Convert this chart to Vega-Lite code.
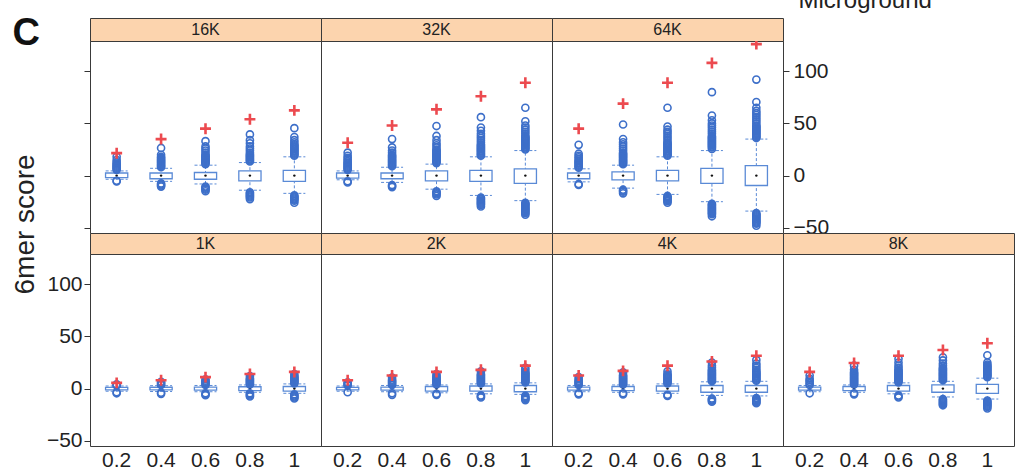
{
  "$schema": "https://vega.github.io/schema/vega-lite/v6.json",
  "padding": {"left": 10, "top": -13, "right": 0, "bottom": 10},
  "background": "white",
  "columns": 4,
  "bounds": "flush",
  "align": "each",
  "spacing": 0,
  "datasets": {
    "boxes": [
      {"panel": "16K", "frac": "0.2", "q1": -2, "q3": 2.5, "med": 0, "lo": -3.5, "hi": 4.5, "mg": 21.5, "out": [5.5,6.5,7.5,8.5,9.5,10.5,11.5,13,15,18,-5,-5.5]},
      {"panel": "16K", "frac": "0.4", "q1": -3, "q3": 2.5, "med": 0, "lo": -5.5, "hi": 7, "mg": 35, "out": [8,9,10,11,12,13,14,15,16,17,18,20,26.5,-7.5,-8.5,-9.5,-10.5]},
      {"panel": "16K", "frac": "0.6", "q1": -3.5, "q3": 3, "med": 0, "lo": -8, "hi": 10, "mg": 45, "out": [11,12,13,14,15,16,17,18,19,20,22,24,26,28,33,-10.5,-11.5,-12.5,-13.5,-15]},
      {"panel": "16K", "frac": "0.8", "q1": -5, "q3": 4.5, "med": 0, "lo": -14, "hi": 12.5, "mg": 54, "out": [13.5,14.5,15.5,16.5,17.5,18.5,19.5,20.5,22,24,26,28,31,34,39.5,-16,-17,-18,-19,-20,-21,-22.5]},
      {"panel": "16K", "frac": "1", "q1": -5.5, "q3": 5, "med": 0, "lo": -17, "hi": 18, "mg": 62.5, "out": [19,20,21,22,23,24,25,26,27,28,29,30,32,34,37,45.5,-19,-20,-21,-22,-23,-24,-26]},
      {"panel": "32K", "frac": "0.2", "q1": -2.5, "q3": 2.5, "med": 0, "lo": -4, "hi": 4.5, "mg": 31.5, "out": [5.5,6.5,7.5,8.5,9.5,10.5,11.5,12.5,14,15.5,17,19,22,-5.5,-6.5]},
      {"panel": "32K", "frac": "0.4", "q1": -3, "q3": 2.5, "med": 0, "lo": -6.5, "hi": 8, "mg": 48, "out": [9,10,11,12,13,14,15,16,17,18,19,20,22,24,27,35,-9,-10,-11]},
      {"panel": "32K", "frac": "0.6", "q1": -5, "q3": 4.5, "med": 0, "lo": -13, "hi": 11, "mg": 63.5, "out": [12,13,14,15,16,17,18,19,20,21,22,23,24,25,27,29,31,34,38,47.5,-15,-16,-17,-18,-19.5]},
      {"panel": "32K", "frac": "0.8", "q1": -5.5, "q3": 5, "med": 0, "lo": -19, "hi": 18, "mg": 76, "out": [19,20,21,22,23,24,25,26,27,28,29,30,32,34,36,38,40,43,46,56,-21,-22,-23,-24,-25,-26,-27,-28,-29.5]},
      {"panel": "32K", "frac": "1", "q1": -7.5, "q3": 6.5, "med": 0, "lo": -24, "hi": 24, "mg": 89, "out": [25,26,27,28,29,30,31,32,33,34,35,36,37,38,40,42,44,46,48,52,65,-26,-27,-28,-29,-30,-31,-32,-33,-34,-35,-36,-37.5]},
      {"panel": "64K", "frac": "0.2", "q1": -3, "q3": 2.5, "med": 0, "lo": -6, "hi": 6.5, "mg": 45, "out": [7.5,8.5,9.5,10.5,11.5,12.5,13.5,14.5,16,17.5,19,21,29.5,-8,-9]},
      {"panel": "64K", "frac": "0.4", "q1": -4, "q3": 3.5, "med": 0, "lo": -12, "hi": 10, "mg": 69, "out": [11,12,13,14,15,16,17,18,19,20,21,22,24,26,28,30,32,35,49,-13.5,-14.5,-15.5,-17]},
      {"panel": "64K", "frac": "0.6", "q1": -5, "q3": 5, "med": 0, "lo": -18, "hi": 18, "mg": 89, "out": [19,20,21,22,23,24,25,26,27,28,29,30,31,32,34,36,38,40,42,44,47,65,-19.5,-20.5,-21.5,-22.5,-23.5,-24.5,-26]},
      {"panel": "64K", "frac": "0.8", "q1": -7.5, "q3": 7, "med": 0, "lo": -25, "hi": 24, "mg": 108, "out": [25.5,27,28,29,30,31,32,33,34,35,36,37,38,40,42,44,46,48,50,53,57.5,80,-27,-28,-29,-30,-31,-32,-33,-34,-35,-36,-37,-39]},
      {"panel": "64K", "frac": "1", "q1": -9.5, "q3": 9.5, "med": 0, "lo": -34, "hi": 35, "mg": 126, "out": [36,37,38,39,40,41,42,43,44,45,46,47,48,50,52,54,56,58,60,62,65,70.5,92,-36,-37,-38,-39,-40,-41,-42,-43,-44,-45,-46,-48]},
      {"panel": "1K", "frac": "0.2", "q1": -1.2, "q3": 1.2, "med": 0, "lo": -2.5, "hi": 2.5, "mg": 5.5, "out": [3,3.5,4,-3.5,-4.5]},
      {"panel": "1K", "frac": "0.4", "q1": -1.3, "q3": 1.3, "med": 0, "lo": -2.8, "hi": 2.8, "mg": 8, "out": [3.5,4.5,5.5,6.5,-4,-5]},
      {"panel": "1K", "frac": "0.6", "q1": -1.5, "q3": 1.5, "med": 0, "lo": -3, "hi": 3, "mg": 11, "out": [3.5,4.5,5.5,6.5,7.5,9,-4.5,-5.5,-6.3]},
      {"panel": "1K", "frac": "0.8", "q1": -2, "q3": 1.8, "med": 0, "lo": -3.5, "hi": 3.5, "mg": 14, "out": [4,5,6,7,8,9,10,12,-4.5,-5.5,-6.5,-7.5]},
      {"panel": "1K", "frac": "1", "q1": -2.5, "q3": 2, "med": 0, "lo": -4.5, "hi": 4.5, "mg": 16, "out": [5,6,7,8,9,10,11,12,14,-5.5,-6.5,-7.5,-8.5,-9.5]},
      {"panel": "2K", "frac": "0.2", "q1": -1.2, "q3": 1.2, "med": 0, "lo": -2.5, "hi": 2.5, "mg": 8, "out": [3,4,5,6,-3.5]},
      {"panel": "2K", "frac": "0.4", "q1": -1.5, "q3": 1.5, "med": 0, "lo": -3, "hi": 3, "mg": 12.5, "out": [3.5,4.5,5.5,6.5,7.5,8.5,10.5,-4.5,-6]},
      {"panel": "2K", "frac": "0.6", "q1": -2.5, "q3": 2, "med": 0, "lo": -4, "hi": 3.5, "mg": 16, "out": [4,5,6,7,8,9,10,11,12,14,-5,-6]},
      {"panel": "2K", "frac": "0.8", "q1": -2.5, "q3": 2.5, "med": 0, "lo": -5, "hi": 4.5, "mg": 18, "out": [5,6,7,8,9,10,11,12,13,14,16.5,-6.5,-7.5,-8.5]},
      {"panel": "2K", "frac": "1", "q1": -3, "q3": 3, "med": 0, "lo": -5.5, "hi": 5.5, "mg": 22, "out": [6,7,8,9,10,11,12,13,14,15,16,18,20,-7,-8,-9,-10,-11]},
      {"panel": "4K", "frac": "0.2", "q1": -1.5, "q3": 1.5, "med": 0, "lo": -3, "hi": 3, "mg": 12.5, "out": [3.5,4.5,5.5,6.5,7.5,9,11,-4.5,-5.5]},
      {"panel": "4K", "frac": "0.4", "q1": -2, "q3": 2, "med": 0, "lo": -3.5, "hi": 3.5, "mg": 17, "out": [4,5,6,7,8,9,10,11,12,13,15.5,-4.5,-5.5]},
      {"panel": "4K", "frac": "0.6", "q1": -2.5, "q3": 2.5, "med": 0, "lo": -4.5, "hi": 4.5, "mg": 22, "out": [5,6,7,8,9,10,11,12,13,14,16.5,-6,-7]},
      {"panel": "4K", "frac": "0.8", "q1": -3.5, "q3": 3, "med": 0, "lo": -6.5, "hi": 6.5, "mg": 26, "out": [7,8,9,10,11,12,13,14,15,16,17,18,20,22,25,-9.5,-10.5,-11.5,-12.5]},
      {"panel": "4K", "frac": "1", "q1": -3.5, "q3": 3, "med": 0, "lo": -7, "hi": 7, "mg": 31.5, "out": [7.5,8.5,9.5,10.5,11.5,12.5,13.5,14.5,15.5,16.5,18,20,22,24,27.5,-9,-10,-11,-12,-13,-14]},
      {"panel": "8K", "frac": "0.2", "q1": -1.5, "q3": 1.5, "med": 0, "lo": -3, "hi": 3, "mg": 16, "out": [3.5,5,6.5,8,9.5,12.5,-4.5]},
      {"panel": "8K", "frac": "0.4", "q1": -2, "q3": 2, "med": 0, "lo": -3.5, "hi": 3.5, "mg": 24.5, "out": [4,5,6,7,8,9,10,11,12,13,14,15,16,18,22,-4.5,-5.5]},
      {"panel": "8K", "frac": "0.6", "q1": -2.5, "q3": 3, "med": 0, "lo": -5, "hi": 5.5, "mg": 31.5, "out": [6,7,8,9,10,11,12,13,14,15,16,17,18,20,22,25,28.5,-6.5,-7.5,-8.5]},
      {"panel": "8K", "frac": "0.8", "q1": -3.5, "q3": 3.5, "med": 0, "lo": -8, "hi": 7, "mg": 37, "out": [8,9,10,11,12,13,14,15,16,17,18,19,20,22,24,27,30,-10,-11,-12,-13,-14,-15,-16]},
      {"panel": "8K", "frac": "1", "q1": -4.5, "q3": 4, "med": 0, "lo": -10, "hi": 10, "mg": 43.5, "out": [11,12,13,14,15,16,17,18,19,20,21,22,23,25,32,-11.5,-12.5,-13.5,-14.5,-15.5,-16.5,-17.5,-19]}
    ]
  },
  "concat": [
    {"width": 231, "height": 23, "view": {"fill": "#fcd4ae", "stroke": "#3a3a3a"}, "data": {"values": [{"panel": "16K"}]},
     "mark": {"type": "text", "fontSize": 16, "color": "#222", "baseline": "middle"}, "encoding": {"text": {"field": "panel"}}},
    {"width": 231, "height": 23, "view": {"fill": "#fcd4ae", "stroke": "#3a3a3a"}, "data": {"values": [{"panel": "32K"}]},
     "mark": {"type": "text", "fontSize": 16, "color": "#222", "baseline": "middle"}, "encoding": {"text": {"field": "panel"}}},
    {"width": 231, "height": 23, "view": {"fill": "#fcd4ae", "stroke": "#3a3a3a"}, "data": {"values": [{"panel": "64K"}]},
     "mark": {"type": "text", "fontSize": 16, "color": "#222", "baseline": "middle"}, "encoding": {"text": {"field": "panel"}}},
    {"width": 231, "height": 23, "view": {"stroke": null}, "data": {"values": [{"panel": ""}]},
     "mark": {"type": "text"}, "encoding": {"text": {"field": "panel"}}},

    {"data": {"name": "boxes"}, "transform": [{"filter": "datum.panel === '16K'"}], "width": 231, "height": 192,
     "encoding": {"x": {"field": "frac", "type": "ordinal", "scale": {"type": "band", "paddingInner": 0.5, "paddingOuter": 0.35}, "axis": null}},
     "layer": [
       {"mark": {"type": "rule", "color": "#5a8ad6", "strokeDash": [3, 2], "strokeWidth": 1},
        "encoding": {"y": {"field": "lo", "type": "quantitative", "scale": {"domain": [-55, 129], "nice": false, "zero": false},
          "axis": {"orient": "left", "values": [-50, 0, 50, 100], "labels": false, "tickSize": 6, "domain": false, "grid": false,
            "title": "C", "titleAngle": 0, "titleFontSize": 38, "titleFontWeight": "bold", "titleColor": "#111", "titleX": -78, "titleY": 3, "titleAlign": "left", "titleBaseline": "alphabetic"}},
          "y2": {"field": "hi"}}},
       {"transform": [{"fold": ["lo", "hi"], "as": ["k", "cap"]}],
        "mark": {"type": "rule", "color": "#5a8ad6", "strokeDash": [3, 2], "strokeWidth": 1, "xOffset": -11, "x2Offset": 11},
        "encoding": {"x2": {"field": "frac"}, "y": {"field": "cap", "type": "quantitative"}}},
       {"mark": {"type": "bar", "fill": "white", "stroke": "#5a8ad6", "strokeWidth": 1.3},
        "encoding": {"y": {"field": "q1", "type": "quantitative"}, "y2": {"field": "q3"}}},
       {"mark": {"type": "point", "filled": true, "color": "#111", "size": 6, "opacity": 1},
        "encoding": {"y": {"field": "med", "type": "quantitative"}}},
       {"transform": [{"flatten": ["out"]}],
        "mark": {"type": "point", "shape": "circle", "filled": false, "color": "#3d6fc9", "strokeWidth": 1.6, "size": 50, "opacity": 1},
        "encoding": {"y": {"field": "out", "type": "quantitative"}}},
       {"mark": {"type": "point", "shape": "M-1,0L1,0M0,-1L0,1", "filled": false, "color": "#ec4a4f", "strokeWidth": 2.6, "size": 120, "opacity": 1, "clip": true},
        "encoding": {"y": {"field": "mg", "type": "quantitative"}}}
     ]},

    {"data": {"name": "boxes"}, "transform": [{"filter": "datum.panel === '32K'"}], "width": 231, "height": 192,
     "encoding": {"x": {"field": "frac", "type": "ordinal", "scale": {"type": "band", "paddingInner": 0.5, "paddingOuter": 0.35}, "axis": null}},
     "layer": [
       {"mark": {"type": "rule", "color": "#5a8ad6", "strokeDash": [3, 2], "strokeWidth": 1},
        "encoding": {"y": {"field": "lo", "type": "quantitative", "scale": {"domain": [-55, 129], "nice": false, "zero": false}, "axis": null}, "y2": {"field": "hi"}}},
       {"transform": [{"fold": ["lo", "hi"], "as": ["k", "cap"]}],
        "mark": {"type": "rule", "color": "#5a8ad6", "strokeDash": [3, 2], "strokeWidth": 1, "xOffset": -11, "x2Offset": 11},
        "encoding": {"x2": {"field": "frac"}, "y": {"field": "cap", "type": "quantitative", "axis": null}}},
       {"mark": {"type": "bar", "fill": "white", "stroke": "#5a8ad6", "strokeWidth": 1.3},
        "encoding": {"y": {"field": "q1", "type": "quantitative", "axis": null}, "y2": {"field": "q3"}}},
       {"mark": {"type": "point", "filled": true, "color": "#111", "size": 6, "opacity": 1},
        "encoding": {"y": {"field": "med", "type": "quantitative", "axis": null}}},
       {"transform": [{"flatten": ["out"]}],
        "mark": {"type": "point", "shape": "circle", "filled": false, "color": "#3d6fc9", "strokeWidth": 1.6, "size": 50, "opacity": 1},
        "encoding": {"y": {"field": "out", "type": "quantitative", "axis": null}}},
       {"mark": {"type": "point", "shape": "M-1,0L1,0M0,-1L0,1", "filled": false, "color": "#ec4a4f", "strokeWidth": 2.6, "size": 120, "opacity": 1, "clip": true},
        "encoding": {"y": {"field": "mg", "type": "quantitative", "axis": null}}}
     ]},

    {"data": {"name": "boxes"}, "transform": [{"filter": "datum.panel === '64K'"}], "width": 231, "height": 192,
     "encoding": {"x": {"field": "frac", "type": "ordinal", "scale": {"type": "band", "paddingInner": 0.5, "paddingOuter": 0.35}, "axis": null}},
     "layer": [
       {"mark": {"type": "rule", "color": "#5a8ad6", "strokeDash": [3, 2], "strokeWidth": 1},
        "encoding": {"y": {"field": "lo", "type": "quantitative", "scale": {"domain": [-55, 129], "nice": false, "zero": false},
          "axis": {"orient": "right", "values": [-50, 0, 50, 100], "labelFontSize": 21, "tickSize": 6, "labelPadding": 4, "domain": false, "grid": false,
            "title": "Microground", "titleAngle": 0, "titleFontSize": 24, "titleFontWeight": "normal", "titleColor": "#222", "titleX": 15, "titleY": -34, "titleAlign": "left", "titleBaseline": "alphabetic"}},
          "y2": {"field": "hi"}}},
       {"transform": [{"fold": ["lo", "hi"], "as": ["k", "cap"]}],
        "mark": {"type": "rule", "color": "#5a8ad6", "strokeDash": [3, 2], "strokeWidth": 1, "xOffset": -11, "x2Offset": 11},
        "encoding": {"x2": {"field": "frac"}, "y": {"field": "cap", "type": "quantitative"}}},
       {"mark": {"type": "bar", "fill": "white", "stroke": "#5a8ad6", "strokeWidth": 1.3},
        "encoding": {"y": {"field": "q1", "type": "quantitative"}, "y2": {"field": "q3"}}},
       {"mark": {"type": "point", "filled": true, "color": "#111", "size": 6, "opacity": 1},
        "encoding": {"y": {"field": "med", "type": "quantitative"}}},
       {"transform": [{"flatten": ["out"]}],
        "mark": {"type": "point", "shape": "circle", "filled": false, "color": "#3d6fc9", "strokeWidth": 1.6, "size": 50, "opacity": 1},
        "encoding": {"y": {"field": "out", "type": "quantitative"}}},
       {"mark": {"type": "point", "shape": "M-1,0L1,0M0,-1L0,1", "filled": false, "color": "#ec4a4f", "strokeWidth": 2.6, "size": 120, "opacity": 1, "clip": true},
        "encoding": {"y": {"field": "mg", "type": "quantitative"}}}
     ]},

    {"width": 231, "height": 192, "view": {"stroke": null}, "data": {"values": [{"panel": ""}]},
     "mark": {"type": "text"}, "encoding": {"text": {"field": "panel"}}},

    {"width": 231, "height": 21, "view": {"fill": "#fcd4ae", "stroke": "#3a3a3a"}, "data": {"values": [{"panel": "1K"}]},
     "mark": {"type": "text", "fontSize": 16, "color": "#222", "baseline": "middle"}, "encoding": {"text": {"field": "panel"}}},
    {"width": 231, "height": 21, "view": {"fill": "#fcd4ae", "stroke": "#3a3a3a"}, "data": {"values": [{"panel": "2K"}]},
     "mark": {"type": "text", "fontSize": 16, "color": "#222", "baseline": "middle"}, "encoding": {"text": {"field": "panel"}}},
    {"width": 231, "height": 21, "view": {"fill": "#fcd4ae", "stroke": "#3a3a3a"}, "data": {"values": [{"panel": "4K"}]},
     "mark": {"type": "text", "fontSize": 16, "color": "#222", "baseline": "middle"}, "encoding": {"text": {"field": "panel"}}},
    {"width": 231, "height": 21, "view": {"fill": "#fcd4ae", "stroke": "#3a3a3a"}, "data": {"values": [{"panel": "8K"}]},
     "mark": {"type": "text", "fontSize": 16, "color": "#222", "baseline": "middle"}, "encoding": {"text": {"field": "panel"}}},

    {"data": {"name": "boxes"}, "transform": [{"filter": "datum.panel === '1K'"}], "width": 231, "height": 192,
     "encoding": {"x": {"field": "frac", "type": "ordinal", "scale": {"type": "band", "paddingInner": 0.5, "paddingOuter": 0.35},
       "axis": {"labelFontSize": 21, "ticks": false, "domain": false, "labelPadding": 3, "title": null, "labelAngle": 0}}},
     "layer": [
       {"mark": {"type": "rule", "color": "#5a8ad6", "strokeDash": [3, 2], "strokeWidth": 1},
        "encoding": {"y": {"field": "lo", "type": "quantitative", "scale": {"domain": [-55, 129], "nice": false, "zero": false},
          "axis": {"orient": "left", "values": [-50, 0, 50, 100], "labelFontSize": 21, "tickSize": 6, "labelPadding": 2, "domain": false, "grid": false,
            "title": "6mer score", "titleFontSize": 28, "titleFontWeight": "normal", "titleColor": "#222", "titleX": -57, "titleY": -30, "titleAlign": "center", "titleBaseline": "alphabetic"}},
          "y2": {"field": "hi"}}},
       {"transform": [{"fold": ["lo", "hi"], "as": ["k", "cap"]}],
        "mark": {"type": "rule", "color": "#5a8ad6", "strokeDash": [3, 2], "strokeWidth": 1, "xOffset": -11, "x2Offset": 11},
        "encoding": {"x2": {"field": "frac"}, "y": {"field": "cap", "type": "quantitative"}}},
       {"mark": {"type": "bar", "fill": "white", "stroke": "#5a8ad6", "strokeWidth": 1.3},
        "encoding": {"y": {"field": "q1", "type": "quantitative"}, "y2": {"field": "q3"}}},
       {"mark": {"type": "point", "filled": true, "color": "#111", "size": 6, "opacity": 1},
        "encoding": {"y": {"field": "med", "type": "quantitative"}}},
       {"transform": [{"flatten": ["out"]}],
        "mark": {"type": "point", "shape": "circle", "filled": false, "color": "#3d6fc9", "strokeWidth": 1.6, "size": 50, "opacity": 1},
        "encoding": {"y": {"field": "out", "type": "quantitative"}}},
       {"mark": {"type": "point", "shape": "M-1,0L1,0M0,-1L0,1", "filled": false, "color": "#ec4a4f", "strokeWidth": 2.6, "size": 120, "opacity": 1, "clip": true},
        "encoding": {"y": {"field": "mg", "type": "quantitative"}}}
     ]},

    {"data": {"name": "boxes"}, "transform": [{"filter": "datum.panel === '2K'"}], "width": 231, "height": 192,
     "encoding": {"x": {"field": "frac", "type": "ordinal", "scale": {"type": "band", "paddingInner": 0.5, "paddingOuter": 0.35},
       "axis": {"labelFontSize": 21, "ticks": false, "domain": false, "labelPadding": 3, "title": null, "labelAngle": 0}}},
     "layer": [
       {"mark": {"type": "rule", "color": "#5a8ad6", "strokeDash": [3, 2], "strokeWidth": 1},
        "encoding": {"y": {"field": "lo", "type": "quantitative", "scale": {"domain": [-55, 129], "nice": false, "zero": false}, "axis": null}, "y2": {"field": "hi"}}},
       {"transform": [{"fold": ["lo", "hi"], "as": ["k", "cap"]}],
        "mark": {"type": "rule", "color": "#5a8ad6", "strokeDash": [3, 2], "strokeWidth": 1, "xOffset": -11, "x2Offset": 11},
        "encoding": {"x2": {"field": "frac"}, "y": {"field": "cap", "type": "quantitative", "axis": null}}},
       {"mark": {"type": "bar", "fill": "white", "stroke": "#5a8ad6", "strokeWidth": 1.3},
        "encoding": {"y": {"field": "q1", "type": "quantitative", "axis": null}, "y2": {"field": "q3"}}},
       {"mark": {"type": "point", "filled": true, "color": "#111", "size": 6, "opacity": 1},
        "encoding": {"y": {"field": "med", "type": "quantitative", "axis": null}}},
       {"transform": [{"flatten": ["out"]}],
        "mark": {"type": "point", "shape": "circle", "filled": false, "color": "#3d6fc9", "strokeWidth": 1.6, "size": 50, "opacity": 1},
        "encoding": {"y": {"field": "out", "type": "quantitative", "axis": null}}},
       {"mark": {"type": "point", "shape": "M-1,0L1,0M0,-1L0,1", "filled": false, "color": "#ec4a4f", "strokeWidth": 2.6, "size": 120, "opacity": 1, "clip": true},
        "encoding": {"y": {"field": "mg", "type": "quantitative", "axis": null}}}
     ]},

    {"data": {"name": "boxes"}, "transform": [{"filter": "datum.panel === '4K'"}], "width": 231, "height": 192,
     "encoding": {"x": {"field": "frac", "type": "ordinal", "scale": {"type": "band", "paddingInner": 0.5, "paddingOuter": 0.35},
       "axis": {"labelFontSize": 21, "ticks": false, "domain": false, "labelPadding": 3, "title": null, "labelAngle": 0}}},
     "layer": [
       {"mark": {"type": "rule", "color": "#5a8ad6", "strokeDash": [3, 2], "strokeWidth": 1},
        "encoding": {"y": {"field": "lo", "type": "quantitative", "scale": {"domain": [-55, 129], "nice": false, "zero": false}, "axis": null}, "y2": {"field": "hi"}}},
       {"transform": [{"fold": ["lo", "hi"], "as": ["k", "cap"]}],
        "mark": {"type": "rule", "color": "#5a8ad6", "strokeDash": [3, 2], "strokeWidth": 1, "xOffset": -11, "x2Offset": 11},
        "encoding": {"x2": {"field": "frac"}, "y": {"field": "cap", "type": "quantitative", "axis": null}}},
       {"mark": {"type": "bar", "fill": "white", "stroke": "#5a8ad6", "strokeWidth": 1.3},
        "encoding": {"y": {"field": "q1", "type": "quantitative", "axis": null}, "y2": {"field": "q3"}}},
       {"mark": {"type": "point", "filled": true, "color": "#111", "size": 6, "opacity": 1},
        "encoding": {"y": {"field": "med", "type": "quantitative", "axis": null}}},
       {"transform": [{"flatten": ["out"]}],
        "mark": {"type": "point", "shape": "circle", "filled": false, "color": "#3d6fc9", "strokeWidth": 1.6, "size": 50, "opacity": 1},
        "encoding": {"y": {"field": "out", "type": "quantitative", "axis": null}}},
       {"mark": {"type": "point", "shape": "M-1,0L1,0M0,-1L0,1", "filled": false, "color": "#ec4a4f", "strokeWidth": 2.6, "size": 120, "opacity": 1, "clip": true},
        "encoding": {"y": {"field": "mg", "type": "quantitative", "axis": null}}}
     ]},

    {"data": {"name": "boxes"}, "transform": [{"filter": "datum.panel === '8K'"}], "width": 231, "height": 192,
     "encoding": {"x": {"field": "frac", "type": "ordinal", "scale": {"type": "band", "paddingInner": 0.5, "paddingOuter": 0.35},
       "axis": {"labelFontSize": 21, "ticks": false, "domain": false, "labelPadding": 3, "title": null, "labelAngle": 0}}},
     "layer": [
       {"mark": {"type": "rule", "color": "#5a8ad6", "strokeDash": [3, 2], "strokeWidth": 1},
        "encoding": {"y": {"field": "lo", "type": "quantitative", "scale": {"domain": [-55, 129], "nice": false, "zero": false},
          "axis": {"orient": "right", "values": [-50, 0, 50, 100], "labels": false, "tickSize": 6, "domain": false, "grid": false, "title": null}},
          "y2": {"field": "hi"}}},
       {"transform": [{"fold": ["lo", "hi"], "as": ["k", "cap"]}],
        "mark": {"type": "rule", "color": "#5a8ad6", "strokeDash": [3, 2], "strokeWidth": 1, "xOffset": -11, "x2Offset": 11},
        "encoding": {"x2": {"field": "frac"}, "y": {"field": "cap", "type": "quantitative"}}},
       {"mark": {"type": "bar", "fill": "white", "stroke": "#5a8ad6", "strokeWidth": 1.3},
        "encoding": {"y": {"field": "q1", "type": "quantitative"}, "y2": {"field": "q3"}}},
       {"mark": {"type": "point", "filled": true, "color": "#111", "size": 6, "opacity": 1},
        "encoding": {"y": {"field": "med", "type": "quantitative"}}},
       {"transform": [{"flatten": ["out"]}],
        "mark": {"type": "point", "shape": "circle", "filled": false, "color": "#3d6fc9", "strokeWidth": 1.6, "size": 50, "opacity": 1},
        "encoding": {"y": {"field": "out", "type": "quantitative"}}},
       {"mark": {"type": "point", "shape": "M-1,0L1,0M0,-1L0,1", "filled": false, "color": "#ec4a4f", "strokeWidth": 2.6, "size": 120, "opacity": 1, "clip": true},
        "encoding": {"y": {"field": "mg", "type": "quantitative"}}}
     ]}
  ],
  "config": {
    "font": "Liberation Sans",
    "view": {"stroke": "#3a3a3a", "strokeWidth": 1},
    "axis": {"labelFont": "Liberation Sans", "titleFont": "Liberation Sans", "labelColor": "#222", "tickColor": "#333"}
  }
}
